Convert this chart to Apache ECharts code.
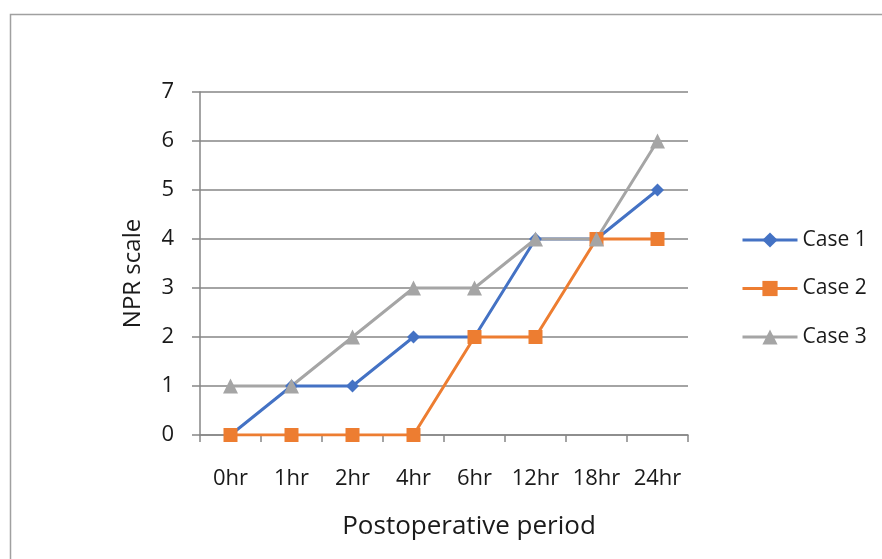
<!DOCTYPE html>
<html><head><meta charset="utf-8">
<script src="https://cdn.jsdelivr.net/npm/echarts@6/dist/echarts.min.js"></script>
<style>html,body{margin:0;padding:0;background:#fff}#c{width:882px;height:559px}</style>
</head><body><div id="c"></div>
<script>
var categories = ["0hr","1hr","2hr","4hr","6hr","12hr","18hr","24hr"];
var case1 = [0,1,1,2,2,4,4,5];
var case2 = [0,0,0,0,2,2,4,4];
var case3 = [1,1,2,3,3,4,4,6];
var seriesNames = ["Case 1","Case 2","Case 3"];
var colors = ["#4472C4","#ED7D31","#A5A5A5"];
var font = "'Open Sans', 'Liberation Sans', sans-serif";
var chart = echarts.init(document.getElementById('c'));
function mk(name, data, color, symbol, size){
  return {name:name, type:'line', data:data, symbol:symbol, symbolSize:size,
    lineStyle:{color:color,width:3}, itemStyle:{color:color}, color:color};
}
chart.setOption({
  animation:false,
  graphic:[{type:'rect', shape:{x:10.5,y:14.5,width:1000,height:1000}, style:{fill:'none',stroke:'#A0A0A0',lineWidth:1.5}}],
  grid:{left:200,top:92,width:488,height:343,containLabel:false},
  legend:{orient:'vertical', left:736, top:224, itemGap:26.5, itemWidth:55, itemHeight:19,
    textStyle:{fontFamily:font,fontSize:21,lineHeight:22,color:'#1a1a1a'},
    lineStyle:{width:3},
    data:seriesNames},
  xAxis:{type:'category', data:categories, boundaryGap:true,
    name:'Postoperative period', nameLocation:'middle', nameGap:79,
    nameTextStyle:{fontFamily:font,fontSize:26,color:'#1a1a1a',padding:[0,0,0,50]},
    axisLine:{lineStyle:{color:'#868686',width:1.5}},
    axisTick:{show:true,length:7,alignWithLabel:false,lineStyle:{color:'#868686',width:1.5}},
    axisLabel:{fontFamily:font,fontSize:22,color:'#1a1a1a',margin:33,interval:0}},
  yAxis:{type:'value', min:0, max:7, interval:1,
    name:'NPR scale', nameLocation:'middle', nameGap:55, nameRotate:90,
    nameTextStyle:{fontFamily:font,fontSize:24,color:'#1a1a1a',padding:[0,20,0,0]},
    axisLine:{show:true,lineStyle:{color:'#868686',width:1.5}},
    axisTick:{show:true,length:8,lineStyle:{color:'#868686',width:1.5}},
    splitLine:{lineStyle:{color:'#868686',width:1.5}},
    axisLabel:{fontFamily:font,fontSize:22,color:'#1a1a1a',margin:26}},
  series:[
    mk(seriesNames[0], case1, colors[0], 'diamond', 13),
    mk(seriesNames[1], case2, colors[1], 'rect', 14),
    mk(seriesNames[2], case3, colors[2], 'triangle', 15)
  ]
});
</script></body></html>
